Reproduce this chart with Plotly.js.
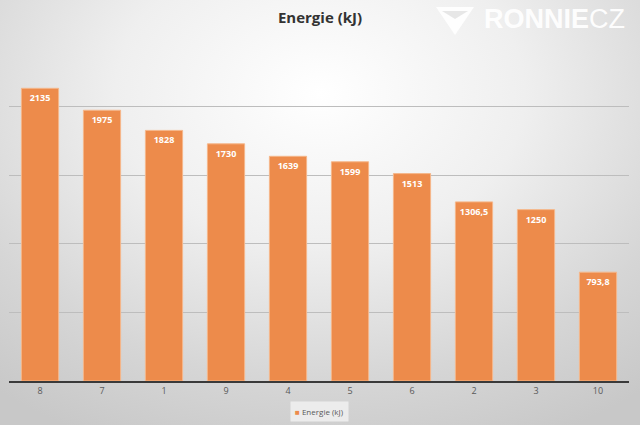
<!DOCTYPE html>
<html>
<head>
<meta charset="utf-8">
<script src="https://cdn.plot.ly/plotly-3.0.1.min.js"></script>
<style>
  html, body { margin: 0; padding: 0; }
  body {
    width: 640px; height: 425px; overflow: hidden;
    background: radial-gradient(ellipse 80% 90% at 50% 22%, #ffffff 0%, #efefef 40%, #d6d6d6 75%, #c8c8c8 100%);
  }
  #chart { width: 640px; height: 425px; }
</style>
</head>
<body>
<div id="chart"></div>
<script>
const categories = ["8", "7", "1", "9", "4", "5", "6", "2", "3", "10"];
const energie = [2135, 1975, 1828, 1730, 1639, 1599, 1513, 1306.5, 1250, 793.8];
const labels = ["2135", "1975", "1828", "1730", "1639", "1599", "1513", "1306,5", "1250", "793,8"];
const seriesName = "Energie (kJ)";
const barColor = "#ed8b4b";

// plot area in pixels: x 9..629, y 38..381
const px = x => (x - 9) / 620;
const py = y => (381 - y) / 343;

const trace = {
  type: "bar",
  x: categories,
  y: energie,
  name: seriesName,
  text: labels.map(t => "<b>" + t + "</b>"),
  textposition: "inside",
  insidetextanchor: "end",
  textangle: 0,
  textfont: { family: "Open Sans, sans-serif", size: 9, color: "#ffffff" },
  marker: { color: barColor, line: { color: "#f5b78a", width: 1 } },
  showlegend: false,
  hoverinfo: "skip"
};

const layout = {
  width: 640, height: 425,
  margin: { l: 9, r: 11, t: 38, b: 44, autoexpand: false },
  paper_bgcolor: "rgba(0,0,0,0)",
  plot_bgcolor: "rgba(0,0,0,0)",
  bargap: 0.4,
  showlegend: false,
  title: {
    text: "<b>Energie (kJ)</b>",
    font: { family: "Open Sans, sans-serif", size: 15, color: "#333333" },
    x: 0.5, xanchor: "center",
    y: 1 - 18 / 425, yanchor: "middle", yref: "container"
  },
  xaxis: {
    type: "category",
    showline: true, linecolor: "#3a3a3a", linewidth: 2,
    ticks: "", showgrid: false,
    tickfont: { family: "Open Sans, sans-serif", size: 9, color: "#595959" },
    fixedrange: true
  },
  yaxis: {
    range: [0, 2502], dtick: 500, tick0: 0,
    showticklabels: false, ticks: "",
    showgrid: true, gridcolor: "#bdbdbd", gridwidth: 1,
    zeroline: false, showline: false,
    fixedrange: true
  },
  shapes: [
    {
      type: "path", xref: "paper", yref: "paper",
      path: `M ${px(436)} ${py(7)} L ${px(474)} ${py(7)} L ${px(455)} ${py(35)} Z`,
      fillcolor: "rgba(255,255,255,0.92)", line: { width: 0 }
    },
    {
      type: "path", xref: "paper", yref: "paper",
      path: `M ${px(442)} ${py(11)} L ${px(468)} ${py(11)} L ${px(455)} ${py(19)} Z`,
      fillcolor: "rgba(228,228,228,0.9)", line: { width: 0 }
    }
  ],
  annotations: [
    {
      xref: "paper", yref: "paper",
      x: px(627), xanchor: "right",
      y: py(19), yanchor: "middle",
      text: "<b>RONNIE</b>CZ",
      showarrow: false,
      font: { family: "Liberation Sans, Arial, sans-serif", size: 27, color: "rgba(255,255,255,0.95)" }
    },
    {
      xref: "paper", yref: "paper",
      x: 0.5, xanchor: "center",
      y: py(411), yanchor: "middle",
      text: "<span style='color:" + barColor + "'>■</span> " + seriesName,
      showarrow: false,
      bgcolor: "rgba(238,238,238,0.9)",
      borderpad: 4,
      font: { family: "Open Sans, sans-serif", size: 8, color: "#595959" }
    }
  ]
};

Plotly.newPlot("chart", [trace], layout, { displayModeBar: false, staticPlot: true });
</script>
</body>
</html>
